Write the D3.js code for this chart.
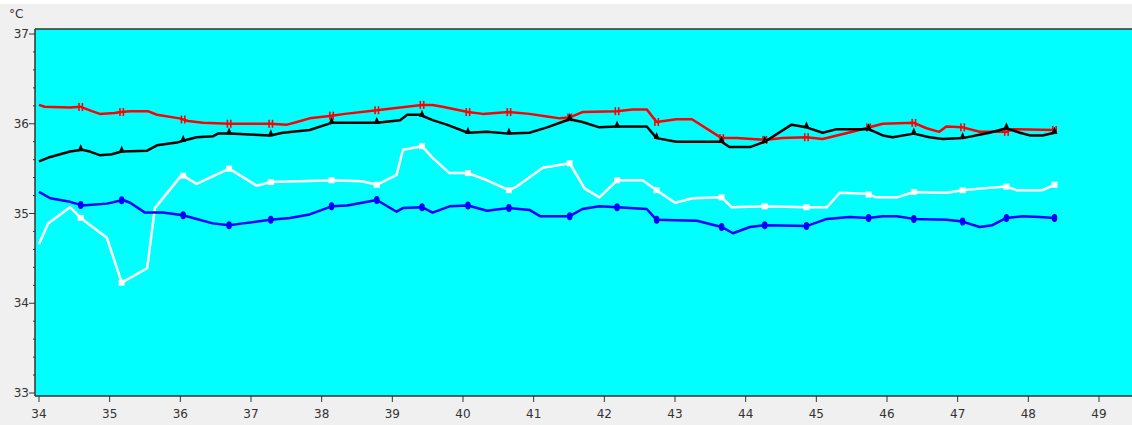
<!DOCTYPE html>
<html>
<head>
<meta charset="utf-8">
<script src="https://cdn.jsdelivr.net/npm/d3@7"></script>
<style>
  body { margin: 0; background: #f0f0f0; }
  svg { display: block; }
  text { font-family: "DejaVu Sans", sans-serif; font-size: 12px; fill: #333; }
</style>
</head>
<body>
<svg id="chart" width="1132" height="425"></svg>
<script>
// temperature readings [x, °C]
const redData = [[34.00,36.21],[34.08,36.19],[34.44,36.18],[34.58,36.19],[34.75,36.14],[34.86,36.11],[35.07,36.12],[35.16,36.13],[35.29,36.14],[35.54,36.14],[35.67,36.10],[35.99,36.06],[36.11,36.03],[36.32,36.01],[36.70,36.00],[37.27,36.00],[37.51,35.99],[37.65,36.02],[37.83,36.06],[38.14,36.09],[38.33,36.11],[38.78,36.15],[39.11,36.18],[39.42,36.21],[39.57,36.21],[39.71,36.19],[40.07,36.13],[40.28,36.11],[40.65,36.13],[40.94,36.11],[41.19,36.08],[41.37,36.06],[41.51,36.07],[41.69,36.13],[42.18,36.14],[42.40,36.16],[42.60,36.16],[42.74,36.02],[43.02,36.05],[43.24,36.05],[43.66,35.84],[43.87,35.84],[44.27,35.82],[44.52,35.84],[44.86,35.85],[45.09,35.83],[45.29,35.87],[45.51,35.91],[45.94,36.00],[46.38,36.01],[46.56,35.95],[46.74,35.91],[46.84,35.97],[47.07,35.96],[47.31,35.91],[47.69,35.91],[47.78,35.94],[48.37,35.93]];
const blackData = [[34.00,35.58],[34.16,35.63],[34.44,35.69],[34.61,35.71],[34.72,35.69],[34.86,35.65],[35.03,35.66],[35.17,35.69],[35.53,35.70],[35.67,35.76],[35.95,35.79],[36.04,35.81],[36.23,35.85],[36.46,35.86],[36.53,35.89],[36.69,35.89],[37.27,35.87],[37.45,35.90],[37.83,35.93],[38.14,36.01],[38.78,36.01],[39.11,36.04],[39.21,36.10],[39.39,36.10],[39.57,36.04],[39.77,35.99],[40.07,35.90],[40.34,35.91],[40.65,35.89],[40.94,35.90],[41.19,35.96],[41.51,36.05],[41.69,36.02],[41.93,35.96],[42.18,35.97],[42.60,35.97],[42.74,35.84],[43.02,35.80],[43.66,35.80],[43.77,35.74],[44.06,35.74],[44.27,35.80],[44.65,35.99],[44.86,35.96],[45.09,35.90],[45.29,35.94],[45.74,35.94],[45.94,35.87],[46.08,35.85],[46.38,35.89],[46.60,35.85],[46.79,35.83],[47.07,35.84],[47.45,35.90],[47.69,35.95],[47.88,35.90],[48.02,35.87],[48.20,35.87],[48.37,35.90]];
const whiteData = [[34.00,34.66],[34.13,34.89],[34.44,35.07],[34.59,34.95],[34.96,34.73],[35.17,34.23],[35.53,34.39],[35.64,35.06],[36.02,35.43],[36.23,35.33],[36.69,35.50],[37.08,35.31],[37.27,35.35],[37.69,35.36],[38.14,35.37],[38.57,35.36],[38.78,35.32],[39.06,35.43],[39.15,35.71],[39.42,35.75],[39.57,35.62],[39.81,35.45],[40.07,35.45],[40.34,35.37],[40.65,35.26],[40.76,35.30],[41.13,35.51],[41.51,35.56],[41.72,35.28],[41.93,35.18],[42.18,35.37],[42.54,35.37],[42.74,35.26],[43.00,35.12],[43.25,35.17],[43.66,35.18],[43.80,35.07],[44.27,35.08],[44.86,35.07],[45.15,35.07],[45.33,35.23],[45.71,35.22],[45.85,35.18],[46.14,35.18],[46.38,35.24],[46.84,35.23],[47.07,35.26],[47.35,35.28],[47.69,35.30],[47.83,35.26],[48.20,35.26],[48.37,35.32]];
const blueData = [[34.00,35.24],[34.16,35.17],[34.44,35.13],[34.61,35.09],[34.96,35.11],[35.19,35.15],[35.29,35.12],[35.50,35.01],[35.75,35.01],[36.04,34.98],[36.18,34.95],[36.46,34.89],[36.69,34.87],[36.89,34.89],[37.27,34.93],[37.55,34.95],[37.83,34.99],[38.14,35.08],[38.36,35.09],[38.78,35.15],[39.06,35.02],[39.15,35.06],[39.42,35.07],[39.57,35.01],[39.81,35.08],[40.07,35.09],[40.34,35.03],[40.65,35.06],[40.94,35.04],[41.09,34.97],[41.51,34.97],[41.69,35.05],[41.93,35.08],[42.18,35.07],[42.60,35.05],[42.74,34.93],[43.31,34.92],[43.66,34.85],[43.82,34.78],[44.06,34.85],[44.27,34.87],[44.86,34.86],[45.15,34.94],[45.47,34.96],[45.74,34.95],[45.94,34.97],[46.14,34.97],[46.38,34.94],[46.84,34.93],[47.07,34.91],[47.31,34.85],[47.49,34.87],[47.69,34.95],[47.92,34.97],[48.16,34.96],[48.37,34.95]];

const markerX = [34.59,35.17,36.04,36.69,37.28,38.14,38.78,39.42,40.07,40.65,41.51,42.18,42.74,43.66,44.27,44.86,45.74,46.38,47.07,47.69,48.37];
const xTicks = [34,35,36,37,38,39,40,41,42,43,44,45,46,47,48,49];
const yTicks = [33,34,35,36,37];
const yUnit = "°C";

const svg = d3.select("#chart");
const width = 1132;
const height = 425;

const x = d3.scaleLinear().domain([34, 49]).range([39, 1099]);
const y = d3.scaleLinear().domain([33, 37]).range([393, 34]);

const plotLeft = 35, plotTop = 29, plotBottom = 396;

// thin white strip at the very top
svg.append("rect").attr("x", 0).attr("y", 0).attr("width", width).attr("height", 4).attr("fill", "#fff");

svg.append("rect")
  .attr("x", plotLeft).attr("y", plotTop)
  .attr("width", width - plotLeft).attr("height", plotBottom - plotTop)
  .attr("fill", "#00ffff");

// frame
svg.append("line").attr("x1", plotLeft).attr("x2", width).attr("y1", plotTop).attr("y2", plotTop)
  .attr("stroke", "#333").attr("stroke-width", 1.5);

const series = [
  { data: redData,   color: "#ff0000", shape: "bars" },
  { data: blackData, color: "#000000", shape: "triangle" },
  { data: whiteData, color: "#ffffff", shape: "square" },
  { data: blueData,  color: "#0000ff", shape: "dot" }
];

const line = d3.line().x(d => x(d[0])).y(d => y(d[1]));
const bisect = d3.bisector(d => d[0]).left;

function valueAt(data, xv) {
  const i = Math.min(Math.max(bisect(data, xv), 1), data.length - 1);
  const a = data[i - 1], b = data[i];
  const t = (xv - a[0]) / (b[0] - a[0]);
  return a[1] + (b[1] - a[1]) * Math.max(0, Math.min(1, t));
}

series.forEach(s => {
  svg.append("path")
    .datum(s.data)
    .attr("fill", "none")
    .attr("stroke", s.color)
    .attr("stroke-width", 2.5)
    .attr("stroke-linejoin", "round")
    .attr("d", line);

  const g = svg.append("g");
  markerX.forEach(mx => {
    const px = x(mx), py = y(valueAt(s.data, mx));
    if (s.shape === "bars") {
      g.append("rect").attr("x", px - 2.5).attr("y", py - 4).attr("width", 1.6).attr("height", 8).attr("fill", s.color);
      g.append("rect").attr("x", px + 0.9).attr("y", py - 4).attr("width", 1.6).attr("height", 8).attr("fill", s.color);
    } else if (s.shape === "triangle") {
      g.append("path").attr("d", `M${px - 3},${py + 1}L${px},${py - 6}L${px + 3},${py + 1}Z`).attr("fill", s.color);
    } else if (s.shape === "square") {
      g.append("rect").attr("x", px - 3).attr("y", py - 3).attr("width", 6).attr("height", 6).attr("fill", s.color);
    } else {
      g.append("ellipse").attr("cx", px).attr("cy", py).attr("rx", 2.8).attr("ry", 4).attr("fill", s.color);
    }
  });
});

// axes
const yAxis = svg.append("g").attr("transform", `translate(${plotLeft},0)`);
yAxis.append("line").attr("x1", 0).attr("x2", 0).attr("y1", plotTop).attr("y2", plotBottom)
  .attr("stroke", "#333").attr("stroke-width", 1.5);
const minor = d3.range(33, 37.001, 0.2).filter(v => Math.abs(v - Math.round(v)) > 0.01);
yAxis.selectAll(".minor").data(minor).join("line")
  .attr("x1", -2).attr("x2", 0).attr("y1", d => y(d)).attr("y2", d => y(d))
  .attr("stroke", "#333");
yAxis.selectAll(".major").data(yTicks).join("line")
  .attr("x1", -6).attr("x2", 0).attr("y1", d => y(d)).attr("y2", d => y(d))
  .attr("stroke", "#333");
yAxis.selectAll("text").data(yTicks).join("text")
  .attr("x", -6).attr("y", d => y(d)).attr("dy", "0.35em")
  .attr("text-anchor", "end").text(d => d);

svg.append("text").attr("x", 9).attr("y", 18).text(yUnit);

const xAxis = svg.append("g");
xAxis.append("line").attr("x1", plotLeft).attr("x2", width).attr("y1", plotBottom).attr("y2", plotBottom)
  .attr("stroke", "#333").attr("stroke-width", 1.5);
xAxis.selectAll("line.tick").data(xTicks).join("line")
  .attr("x1", d => x(d)).attr("x2", d => x(d)).attr("y1", plotBottom).attr("y2", plotBottom + 6)
  .attr("stroke", "#333");
xAxis.selectAll("text").data(xTicks).join("text")
  .attr("x", d => x(d)).attr("y", 418)
  .attr("text-anchor", "middle").text(d => d);
</script>
</body>
</html>
